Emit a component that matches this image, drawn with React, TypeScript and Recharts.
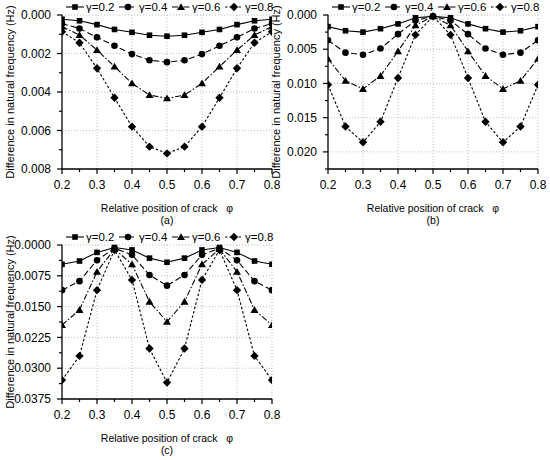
import { LineChart, Line, XAxis, YAxis, CartesianGrid, Label } from 'recharts';

const crackPositions = [0.2, 0.25, 0.3, 0.35, 0.4, 0.45, 0.5, 0.55, 0.6, 0.65, 0.7, 0.75, 0.8];
const gammaLabels = ['γ=0.2', 'γ=0.4', 'γ=0.6', 'γ=0.8'];

// panel (a)
const aGamma02 = [0.00022, 0.0003, 0.0005, 0.00075, 0.0009, 0.00105, 0.0011, 0.00105, 0.0009, 0.00075, 0.0005, 0.0003, 0.00022];
const aGamma04 = [0.00045, 0.0007, 0.00116, 0.0016, 0.00203, 0.00235, 0.00245, 0.00235, 0.00203, 0.0016, 0.00116, 0.0007, 0.00045];
const aGamma06 = [0.0006, 0.00104, 0.00182, 0.00268, 0.00355, 0.00416, 0.00433, 0.00416, 0.00355, 0.00268, 0.00182, 0.00104, 0.0006];
const aGamma08 = [0.00087, 0.00144, 0.00277, 0.0043, 0.0058, 0.00684, 0.00719, 0.00684, 0.0058, 0.0043, 0.00277, 0.00144, 0.00087];

// panel (b)
const bGamma02 = [0.0017, 0.0023, 0.0025, 0.002, 0.0013, 0.0004, 0.0002, 0.0004, 0.0013, 0.002, 0.0025, 0.0023, 0.0017];
const bGamma04 = [0.0037, 0.0055, 0.0058, 0.0049, 0.0028, 0.0008, 0.0002, 0.0008, 0.0028, 0.0049, 0.0058, 0.0055, 0.0037];
const bGamma06 = [0.0064, 0.0096, 0.0108, 0.0089, 0.0053, 0.0015, 0.0002, 0.0015, 0.0053, 0.0089, 0.0108, 0.0096, 0.0064];
const bGamma08 = [0.0102, 0.0163, 0.0186, 0.0156, 0.0092, 0.0029, 0.0002, 0.0029, 0.0092, 0.0156, 0.0186, 0.0163, 0.0102];

// panel (c)
const cGamma02 = [0.0047, 0.0039, 0.0018, 0.0006, 0.0012, 0.0032, 0.0042, 0.0032, 0.0012, 0.0006, 0.0018, 0.0039, 0.0047];
const cGamma04 = [0.011, 0.0088, 0.0037, 0.0008, 0.0024, 0.0073, 0.0099, 0.0073, 0.0024, 0.0008, 0.0037, 0.0088, 0.011];
const cGamma06 = [0.0195, 0.0158, 0.0065, 0.001, 0.0047, 0.0138, 0.0187, 0.0138, 0.0047, 0.001, 0.0065, 0.0158, 0.0195];
const cGamma08 = [0.0329, 0.027, 0.011, 0.0012, 0.0085, 0.0252, 0.0335, 0.0252, 0.0085, 0.0012, 0.011, 0.027, 0.0329];

// ticks (every other one is a labelled major tick)
const xTicks = [0.2, 0.25, 0.3, 0.35, 0.4, 0.45, 0.5, 0.55, 0.6, 0.65, 0.7, 0.75, 0.8];
const xGrid = [0.3, 0.4, 0.5, 0.6, 0.7, 0.8];
const aYTicks = [0, 0.001, 0.002, 0.003, 0.004, 0.005, 0.006, 0.007, 0.008];
const aYGrid = [0, 0.002, 0.004, 0.006];
const bYTicks = [0, 0.0025, 0.005, 0.0075, 0.01, 0.0125, 0.015, 0.0175, 0.02, 0.0225];
const bYGrid = [0, 0.005, 0.01, 0.015, 0.02];
const cYTicks = [0, 0.00375, 0.0075, 0.01125, 0.015, 0.01875, 0.0225, 0.02625, 0.03, 0.03375, 0.0375];
const cYGrid = [0, 0.0075, 0.015, 0.0225, 0.03];

const FONT = '"Liberation Sans", Arial, sans-serif';
const TICK_SIZE = 5;
const TICK_MARGIN = 6;

const seriesStyle = [
    { shape: 'square', dash: undefined },
    { shape: 'circle', dash: '6 3' },
    { shape: 'triangle', dash: '6 2 1.5 2' },
    { shape: 'diamond', dash: '2.5 2' },
];

function buildRows(series: number[][]) {
    return crackPositions.map((pos, i) => {
        const row: Record<string, number> = { pos };
        series.forEach((s, k) => {
            row['g' + k] = s[i];
        });
        return row;
    });
}

function Marker({ cx, cy, shape }: { cx: number; cy: number; shape: string }) {
    if (cx == null || cy == null) return null;
    if (shape === 'square') {
        return <rect x={cx - 2.8} y={cy - 2.8} width={5.6} height={5.6} fill='#000' />;
    }
    if (shape === 'circle') {
        return <circle cx={cx} cy={cy} r={3.3} fill='#000' />;
    }
    if (shape === 'triangle') {
        return <polygon points={`${cx},${cy - 3.8} ${cx + 4},${cy + 3} ${cx - 4},${cy + 3}`} fill='#000' />;
    }
    return <polygon points={`${cx},${cy - 4.2} ${cx + 4.2},${cy} ${cx},${cy + 4.2} ${cx - 4.2},${cy}`} fill='#000' />;
}

function XTick(props: any) {
    const { x, y, payload, index } = props;
    const major = index % 2 === 0;
    const axisY = y - TICK_SIZE - TICK_MARGIN;
    return (
        <g>
            <line x1={x} x2={x} y1={axisY} y2={axisY + (major ? 5 : 3)} stroke='#000' strokeWidth={1.2} />
            {major && (
                <text x={x} y={axisY + 11} dy='0.71em' textAnchor='middle' fontSize={12} fill='#000'>
                    {payload.value.toFixed(1)}
                </text>
            )}
        </g>
    );
}

function makeYTick(digits: number) {
    return (props: any) => {
        const { x, y, payload, index } = props;
        const major = index % 2 === 0;
        const axisX = x + TICK_SIZE + TICK_MARGIN;
        return (
            <g>
                <line x1={axisX} x2={axisX - (major ? 5 : 3)} y1={y} y2={y} stroke='#000' strokeWidth={1.2} />
                {major && (
                    <text x={axisX - 11} y={y} dy='0.355em' textAnchor='end' fontSize={12} fill='#000'>
                        {payload.value.toFixed(digits)}
                    </text>
                )}
            </g>
        );
    };
}

function LegendRow({ left, top }: { left: number; top: number }) {
    return (
        <svg
            width={210}
            height={14}
            style={{ position: 'absolute', left, top, overflow: 'visible', fontFamily: FONT }}
        >
            {gammaLabels.map((name, k) => {
                const ox = k * 53;
                return (
                    <g key={name}>
                        <line
                            x1={ox}
                            x2={ox + 18}
                            y1={7}
                            y2={7}
                            stroke='#000'
                            strokeWidth={1.1}
                            strokeDasharray={seriesStyle[k].dash}
                        />
                        <Marker cx={ox + 9} cy={7} shape={seriesStyle[k].shape} />
                        <text x={ox + 20} y={7} dy='0.36em' fontSize={11.5} fill='#000'>
                            {name}
                        </text>
                    </g>
                );
            })}
        </svg>
    );
}

type PanelProps = {
    left: number;
    top: number;
    series: number[][];
    yTicks: number[];
    yGrid: number[];
    digits: number;
    caption: string;
};

function Panel({ left, top, series, yTicks, yGrid, digits, caption }: PanelProps) {
    const rows = buildRows(series);
    const yMax = yTicks[yTicks.length - 1];
    return (
        <div style={{ position: 'absolute', left, top, width: 285, height: 230 }}>
            <LineChart
                width={285}
                height={230}
                data={rows}
                margin={{ top: 15, right: 13, bottom: 0, left: 0 }}
                style={{ fontFamily: FONT }}
            >
                <CartesianGrid
                    stroke='#bdbdbd'
                    strokeDasharray='1 2'
                    verticalValues={xGrid}
                    horizontalValues={yGrid}
                />
                <XAxis
                    dataKey='pos'
                    type='number'
                    domain={[0.2, 0.8]}
                    ticks={xTicks}
                    interval={0}
                    allowDataOverflow
                    height={61}
                    tickSize={TICK_SIZE}
                    tickMargin={TICK_MARGIN}
                    tickLine={false}
                    tick={XTick}
                    axisLine={{ stroke: '#000', strokeWidth: 1.3 }}
                >
                    <Label
                        value={'Relative position of crack\u00a0\u00a0\u00a0φ'}
                        position='insideBottom'
                        offset={18}
                        fontSize={10.5}
                        fill='#000'
                    />
                    <Label value={caption} position='insideBottom' offset={6.5} fontSize={10.5} fill='#000' />
                </XAxis>
                <YAxis
                    type='number'
                    reversed
                    domain={[0, yMax]}
                    ticks={yTicks}
                    interval={0}
                    width={62}
                    tickSize={TICK_SIZE}
                    tickMargin={TICK_MARGIN}
                    tickLine={false}
                    tick={makeYTick(digits)}
                    axisLine={{ stroke: '#000', strokeWidth: 1.3 }}
                >
                    <Label
                        value='Difference in natural frequency (Hz)'
                        angle={-90}
                        position='insideLeft'
                        offset={10}
                        fontSize={11}
                        fill='#000'
                        style={{ textAnchor: 'middle' }}
                    />
                </YAxis>
                {series.map((_, k) => (
                    <Line
                        key={k}
                        dataKey={'g' + k}
                        name={gammaLabels[k]}
                        type='linear'
                        stroke='#000'
                        strokeWidth={1.1}
                        strokeDasharray={seriesStyle[k].dash}
                        isAnimationActive={false}
                        dot={(p: any) => (
                            <Marker key={k + '-' + p.index} cx={p.cx} cy={p.cy} shape={seriesStyle[k].shape} />
                        )}
                        activeDot={false}
                    />
                ))}
            </LineChart>
            <LegendRow left={66} top={0} />
        </div>
    );
}

export default function App() {
    return (
        <div
            style={{
                position: 'absolute',
                left: 0,
                top: 0,
                width: 550,
                height: 460,
                background: '#fff',
                fontFamily: FONT,
            }}
        >
            <Panel
                left={0}
                top={0}
                series={[aGamma02, aGamma04, aGamma06, aGamma08]}
                yTicks={aYTicks}
                yGrid={aYGrid}
                digits={3}
                caption='(a)'
            />
            <Panel
                left={266}
                top={0}
                series={[bGamma02, bGamma04, bGamma06, bGamma08]}
                yTicks={bYTicks}
                yGrid={bYGrid}
                digits={3}
                caption='(b)'
            />
            <Panel
                left={0}
                top={230}
                series={[cGamma02, cGamma04, cGamma06, cGamma08]}
                yTicks={cYTicks}
                yGrid={cYGrid}
                digits={4}
                caption='(c)'
            />
        </div>
    );
}
